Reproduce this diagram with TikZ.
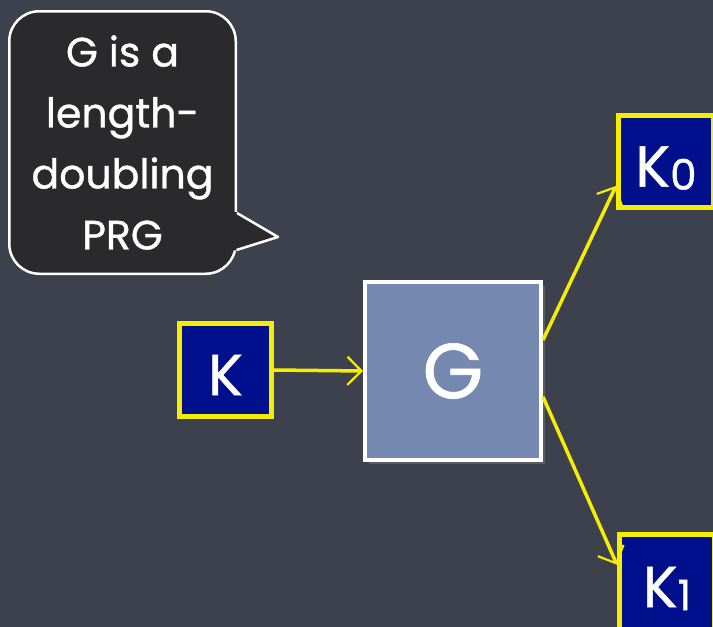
\documentclass[tikz,border=0pt]{standalone}
\usepackage{fontspec}
\setmainfont{Poppins}[FakeBold=0.9]
\usetikzlibrary{arrows.meta,shadows}
\definecolor{board}{HTML}{3D414D}
\definecolor{bubblefill}{HTML}{2A2A2C}
\definecolor{navy}{HTML}{00108C}
\definecolor{chalkyellow}{HTML}{F5EE00}
\definecolor{gblue}{HTML}{7589B0}
\tikzset{
  keybox/.style={draw=chalkyellow, line width=5pt, fill=navy, inner sep=0pt,
    text=white, font=\fontsize{58}{58}\selectfont,
    drop shadow={opacity=0.35, shadow xshift=2pt, shadow yshift=-2pt}},
  prgbox/.style={draw=white, line width=4pt, fill=gblue, inner sep=0pt,
    minimum width=176pt, minimum height=178pt, text=white,
    font=\fontsize{78}{78}\selectfont,
    drop shadow={opacity=0.45, shadow xshift=4pt, shadow yshift=-4pt}},
  bubble/.style={draw=white, line width=2.5pt, fill=bubblefill, rounded corners=30pt,
    minimum width=226.5pt, minimum height=262.5pt, inner sep=0pt, text=white,
    align=center, font=\fontsize{41}{61}\selectfont},
  chalkarrow/.style={draw=chalkyellow, line width=3.5pt,
    -{Straight Barb[length=14pt,width=28pt,line width=2.2pt]}},
}
\newcommand{\subk}[1]{\raisebox{-3pt}{\fontsize{42}{42}\selectfont #1}}
\newcommand{\lowr}[1]{\raisebox{-5pt}[\height][0pt]{#1}}
\begin{document}
\begin{tikzpicture}[x=1pt,y=-1pt]
\fill[board] (0,0) rectangle (713,627);
\useasboundingbox (0,0) rectangle (713,627);

\node[bubble] (bub) at (122.5,142.5) {G is a\\length-\\doubling\\PRG};
\fill[bubblefill] (229,212) -- (239,212) -- (278,237) -- (236.5,250.5) -- (229,250) -- cycle;
\coordinate (tip) at (278,237);
\draw[white, line width=2.5pt, line join=round] (237,213) -- (tip) -- (236.5,250);

\node[keybox, minimum width=92pt, minimum height=93pt] (K) at (225.5,370) {\lowr{K}};
\node[prgbox] (G) at (453,371) {G};
\node[keybox, minimum width=95pt, minimum height=92pt] (K0) at (666,161.5) {\lowr{K\subk{0}}};
\node[keybox, minimum width=95pt, minimum height=95pt] (K1) at (667,582) {\lowr{K\subk{1}}};

\draw[chalkarrow] (K.east) -- (G.west);
\draw[chalkarrow] (G.19) -- (K0.206);
\draw[chalkarrow] (G.-16) -- (K1.161);
\end{tikzpicture}
\end{document}
